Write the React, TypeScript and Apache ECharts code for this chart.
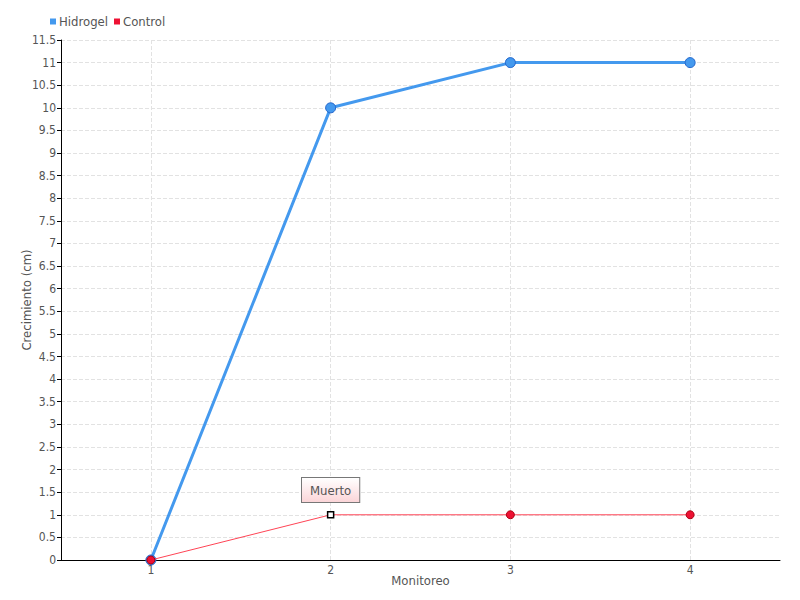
import React, { useEffect, useRef } from "react";
import * as echarts from "echarts";

const categories = ["1", "2", "3", "4"];
const hidrogel = [0, 10, 11, 11];
const control = [0, 1, 1, 1];
const deadIndex = 1;
const deadLabel = "Muerto";

const FONT = "'Liberation Sans Narrow', 'DejaVu Sans Condensed', 'Roboto', sans-serif";

export default function App() {
  const ref = useRef<HTMLDivElement>(null);
  useEffect(() => {
    if (!ref.current) return;
    const chart = echarts.init(ref.current, undefined, { renderer: "svg" });
    const controlData = control.map((v, i) =>
      i === deadIndex
        ? {
            value: v,
            symbol: "rect",
            symbolSize: 6,
            itemStyle: { color: "#ffffff", borderColor: "#000000", borderWidth: 1.5 },
            label: {
              show: true,
              position: "top",
              distance: 9,
              formatter: deadLabel,
              color: "#555",
              fontSize: 13,
              fontFamily: FONT,
              padding: [6, 8, 5, 8],
              borderColor: "#777",
              borderWidth: 1,
              backgroundColor: {
                type: "linear",
                x: 0, y: 0, x2: 0, y2: 1,
                colorStops: [
                  { offset: 0, color: "#ffffff" },
                  { offset: 1, color: "#fbd5d8" },
                ],
              },
            },
          }
        : v
    );
    chart.setOption({
      animation: false,
      textStyle: { fontFamily: FONT },
      grid: { left: 61, right: 20, top: 40, bottom: 40 },
      legend: {
        left: 45,
        top: 10,
        itemWidth: 6,
        itemHeight: 6,
        itemGap: 6,
        icon: "rect",
        itemStyle: { borderWidth: 0 },
        textStyle: { color: "#555", fontSize: 13, fontFamily: FONT, padding: [0, 0, 0, -2] },
        data: ["Hidrogel", "Control"],
      },
      xAxis: {
        type: "category",
        data: categories,
        boundaryGap: true,
        name: "Monitoreo",
        nameLocation: "middle",
        nameGap: 14,
        nameMoveOverlap: false,
        nameTextStyle: { color: "#555", fontSize: 13, fontFamily: FONT, verticalAlign: "top" },
        axisLine: { lineStyle: { color: "#000", width: 1 } },
        axisTick: { alignWithLabel: true, length: 4, lineStyle: { color: "#000" } },
        axisLabel: { color: "#555", fontSize: 12, margin: 4 },
        splitLine: {
          show: true,
          alignWithLabel: true,
          lineStyle: { color: "#e2e2e2", type: "dashed" },
        },
      },
      yAxis: {
        type: "value",
        min: 0,
        max: 11.5,
        interval: 0.5,
        name: "Crecimiento (cm)",
        nameLocation: "middle",
        nameGap: 28,
        nameMoveOverlap: false,
        nameTextStyle: { color: "#555", fontSize: 13, fontFamily: FONT },
        axisLine: { show: true, lineStyle: { color: "#000", width: 1 } },
        axisTick: { show: true, length: 4, lineStyle: { color: "#000" } },
        axisLabel: { color: "#555", fontSize: 12, margin: 5 },
        splitLine: { show: true, lineStyle: { color: "#e2e2e2", type: "dashed" } },
      },
      series: [
        {
          name: "Hidrogel",
          type: "line",
          data: hidrogel,
          symbol: "circle",
          symbolSize: 10,
          color: "#4499ee",
          lineStyle: { width: 3, color: "#4499ee" },
          itemStyle: { color: "#4499ee", borderColor: "#2266cc", borderWidth: 1 },
          z: 2,
        },
        {
          name: "Control",
          type: "line",
          data: controlData,
          symbol: "circle",
          symbolSize: 8,
          color: "#ee1133",
          lineStyle: { width: 1, color: "#ff4455" },
          itemStyle: { color: "#ee1133", borderColor: "#aa0011", borderWidth: 1 },
          z: 3,
        },
      ],
    });
    return () => chart.dispose();
  }, []);
  return <div ref={ref} style={{ width: 800, height: 600, position: "absolute", left: 0, top: 0 }} />;
}
